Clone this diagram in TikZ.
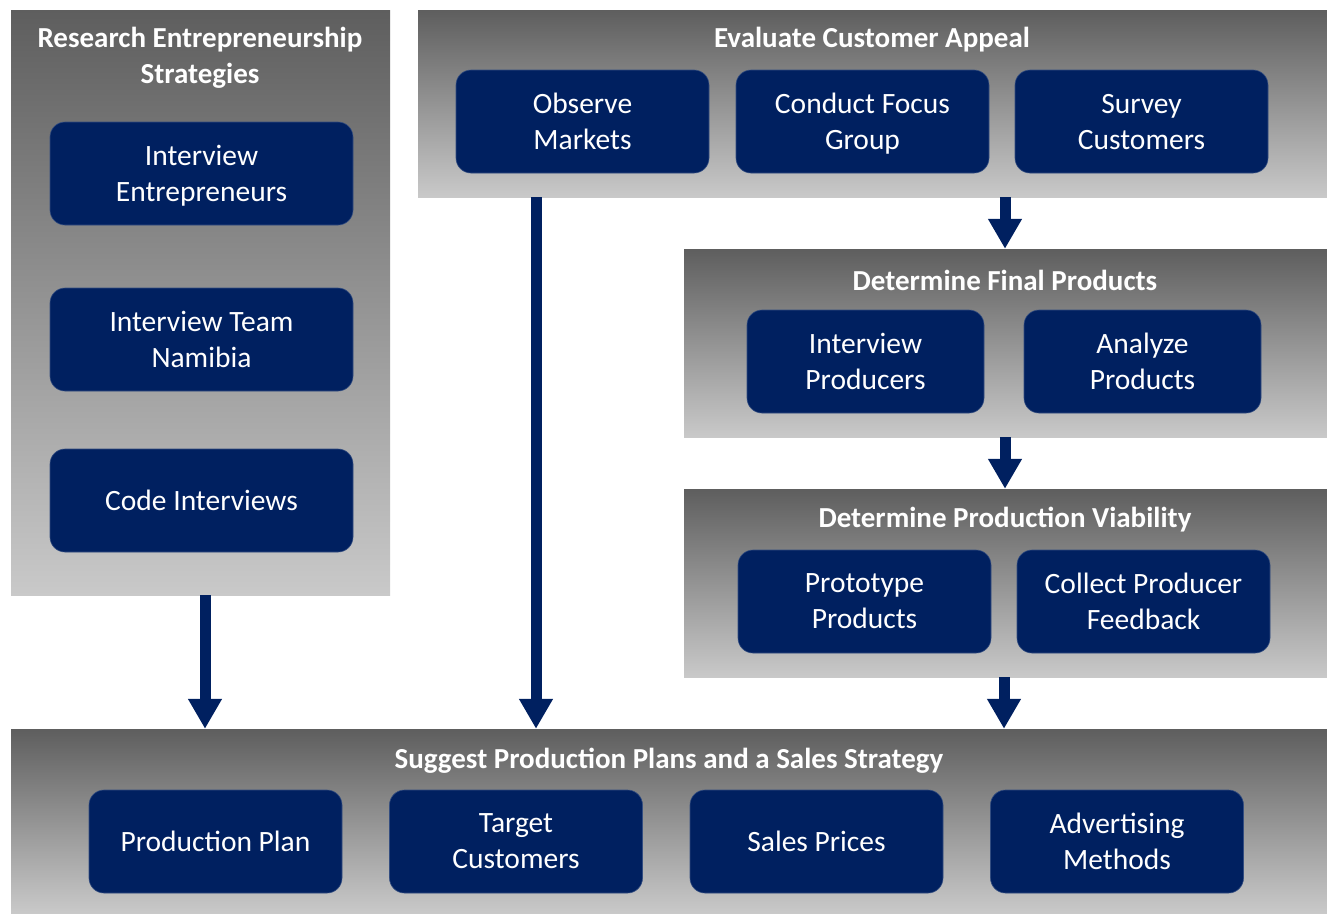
\documentclass[tikz,border=0pt]{standalone}
\usepackage{fontspec}
\setmainfont{Carlito}
\usetikzlibrary{arrows.meta,calc}
\definecolor{navy}{RGB}{0,32,96}
\definecolor{ptop}{RGB}{94,94,94}
\definecolor{pbot}{RGB}{201,201,201}
\tikzset{
  panel/.style={rectangle, draw=none, inner sep=0pt, top color=ptop, bottom color=pbot},
  ptitle/.style={text=white, font=\fontsize{29}{36}\selectfont\bfseries, align=center},
  task/.style={rectangle, rounded corners=15pt, fill=navy, draw=navy!80!white, line width=0.6pt,
    text=white, font=\fontsize{29.5}{36}\selectfont, align=center, inner sep=0pt, text depth=0pt},
  arr/.style={draw=navy, line width=11pt, -{Triangle[width=32pt,length=30pt]}, shorten >=0pt}
}
\begin{document}
\begin{tikzpicture}[x=1pt,y=-1pt]
\useasboundingbox (0,0) rectangle (1327,913);
% panels
\node[panel, minimum width=379pt, minimum height=585pt] (rs) at (200.5,302.5) {};
\node[panel, minimum width=909pt, minimum height=187pt] (ec) at (872.5,103.5) {};
\node[panel, minimum width=643pt, minimum height=188pt] (fp) at (1005.5,343) {};
\node[panel, minimum width=643pt, minimum height=188pt] (pv) at (1005.5,583) {};
\node[panel, minimum width=1316pt, minimum height=184pt] (sp) at (669,821) {};
% titles
\node[ptitle] (rst) at (200,58) {Research Entrepreneurship\\Strategies};
\node[ptitle] (ect) at (872,40) {Evaluate Customer Appeal};
\node[ptitle] (fpt) at (1005,280) {Determine Final Products};
\node[ptitle] (pvt) at (1005,520) {Determine Production Viability};
\node[ptitle] (spt) at (669,761) {Suggest Production Plans and a Sales Strategy};
% left column tasks
\node[task, minimum width=303pt, minimum height=103pt] (ie) at (201.5,173.5) {Interview\\Entrepreneurs};
\node[task, minimum width=303pt, minimum height=103pt] (itn) at (201.5,339.5) {Interview Team\\Namibia};
\node[task, minimum width=303pt, minimum height=103pt] (ci) at (201.5,500.5) {Code Interviews};
% top tasks
\node[task, minimum width=253pt, minimum height=103pt] (om) at (582.5,121.5) {Observe\\Markets};
\node[task, minimum width=253pt, minimum height=103pt] (cfg) at (862.5,121.5) {Conduct Focus\\Group};
\node[task, minimum width=253pt, minimum height=103pt] (sc) at (1141.5,121.5) {Survey\\Customers};
% final products tasks
\node[task, minimum width=237pt, minimum height=103pt] (ip) at (865.5,361.5) {Interview\\Producers};
\node[task, minimum width=237pt, minimum height=103pt] (ap) at (1142.5,361.5) {Analyze\\Products};
% viability tasks
\node[task, minimum width=253pt, minimum height=103pt] (pp) at (864.5,601.5) {Prototype\\Products};
\node[task, minimum width=253pt, minimum height=103pt] (cpf) at (1143.5,601.5) {Collect Producer\\Feedback};
% bottom tasks
\node[task, minimum width=253pt, minimum height=103pt] (pl) at (215.5,841.5) {Production Plan};
\node[task, minimum width=253pt, minimum height=103pt] (tc) at (516,841.5) {Target\\Customers};
\node[task, minimum width=253pt, minimum height=103pt] (spr) at (816.5,841.5) {Sales Prices};
\node[task, minimum width=253pt, minimum height=103pt] (am) at (1117,841.5) {Advertising\\Methods};
% arrows
\draw[arr] (rs.south -| 205,0) -- (sp.north -| 205,0);
\draw[arr] (ec.south -| 536,0) -- (sp.north -| 536,0);
\draw[arr] (ec.south -| 1005,0) -- (fp.north -| 1005,0);
\draw[arr] (fp.south -| 1005,0) -- (pv.north -| 1005,0);
\draw[arr] (pv.south -| 1004,0) -- (sp.north -| 1004,0);
\end{tikzpicture}
\end{document}
